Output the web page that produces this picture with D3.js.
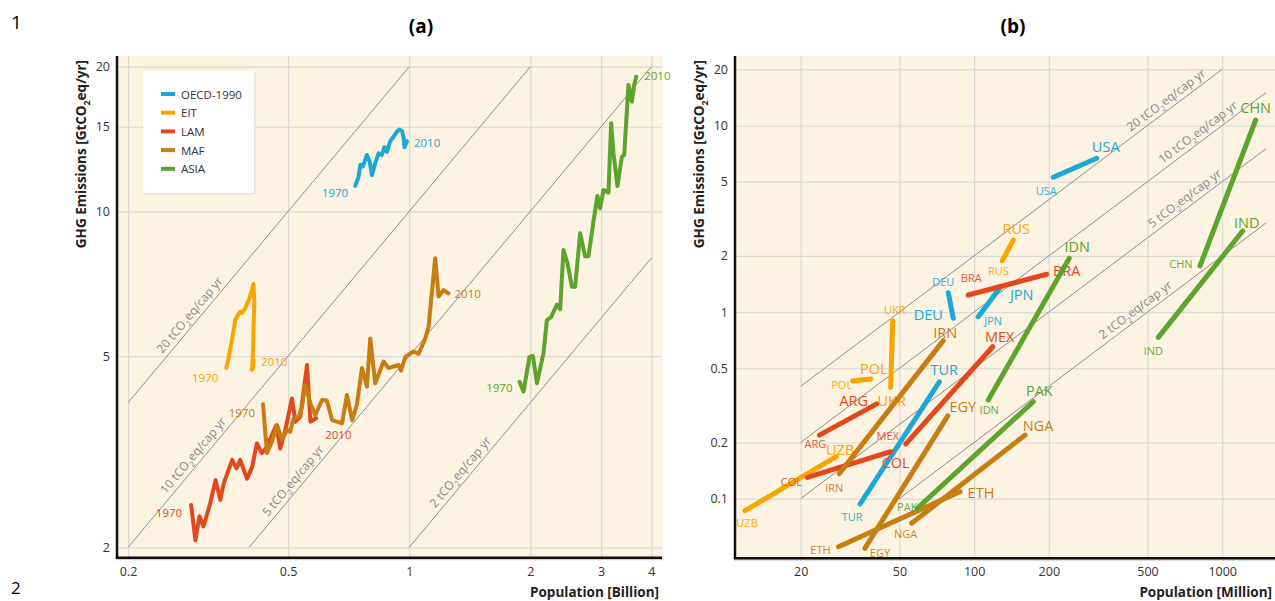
<!DOCTYPE html>
<html>
<head>
<meta charset="utf-8">
<title></title>
<style>
  body { margin: 0; background: #fff; }
  text { font-family: "Open Sans", sans-serif; }
</style>
</head>
<body>
<script src="https://d3js.org/d3.v7.min.js"></script>
<script>

// ---- panel (a): regional paths 1970-2010, [population (billion), GHG (Gt)]
var regions = ["OECD-1990", "EIT", "LAM", "MAF", "ASIA"];

var oecd = [[0.734,11.3],[0.748,11.8],[0.756,12.5],[0.767,12.4],[0.785,13.1],[0.797,12.7],[0.808,11.9],
  [0.823,12.6],[0.839,13.2],[0.855,13.1],[0.867,13.6],[0.880,13.3],[0.897,14.0],[0.914,14.3],[0.932,14.65],
  [0.946,14.8],[0.959,14.7],[0.968,14.3],[0.973,13.6],[0.987,14.0]];

var eit = [[0.351,4.72],[0.356,4.98],[0.3625,5.40],[0.3695,5.94],[0.373,6.04],[0.380,6.18],[0.384,6.15],
  [0.391,6.28],[0.399,6.54],[0.4065,6.86],[0.410,7.06],[0.412,6.44],[0.410,5.66],[0.409,5.11],[0.4065,4.68],
  [0.410,4.91],[0.409,4.72]];

var lam = [[0.287,2.45],[0.294,2.07],[0.301,2.32],[0.308,2.21],[0.320,2.47],[0.330,2.76],[0.339,2.51],
  [0.346,2.72],[0.363,3.04],[0.372,2.92],[0.380,3.04],[0.395,2.78],[0.407,2.94],[0.418,3.29],[0.430,3.14],
  [0.443,3.24],[0.467,3.59],[0.478,3.21],[0.492,3.51],[0.511,4.08],[0.521,3.65],[0.536,3.74],[0.557,4.79],
  [0.568,3.65],[0.587,3.71]];

var maf = [[0.433,3.97],[0.443,3.14],[0.456,3.32],[0.469,3.59],[0.483,3.35],[0.497,3.51],[0.506,3.48],
  [0.516,3.71],[0.531,3.74],[0.541,3.92],[0.551,4.35],[0.568,3.99],[0.584,3.77],[0.607,4.05],[0.624,4.04],
  [0.643,3.68],[0.681,3.62],[0.700,4.15],[0.721,3.68],[0.741,3.96],[0.763,4.72],[0.785,4.32],[0.800,5.44],
  [0.823,4.39],[0.863,4.87],[0.888,4.72],[0.941,4.79],[0.954,4.66],[0.978,4.98],[1.025,5.11],[1.055,5.05],
  [1.096,5.44],[1.117,5.75],[1.160,7.99],[1.183,6.65],[1.217,6.86],[1.252,6.75]];

var asia = [[1.880,4.42],[1.923,4.22],[1.991,4.98],[2.030,5.00],[2.077,4.39],[2.157,5.07],[2.199,5.94],
  [2.250,6.02],[2.328,6.39],[2.373,6.26],[2.418,8.31],[2.474,7.80],[2.537,6.97],[2.585,6.97],[2.660,9.00],
  [2.737,8.07],[2.790,8.07],[2.871,9.52],[2.937,10.77],[2.983,10.15],[3.040,11.08],[3.128,10.94],
  [3.177,15.25],[3.219,13.21],[3.293,11.29],[3.378,12.99],[3.423,13.10],[3.508,18.32],[3.577,16.91],
  [3.624,18.32],[3.666,19.06]];

var years = ["1970", "2010"];

// per-capita reference lines: [tCO2eq/cap, from pop, to pop]
var perCapA = [[20, 0.2, 1], [10, 0.2, 2], [5, 0.4, 4], [2, 1, 4]];
var xTicksA = [0.2, 0.5, 1, 2, 3, 4];
var yTicksA = [2, 5, 10, 15, 20];

// ---- panel (b): countries, population (million) and GHG (Gt), 1970 -> 2010
var countries = ["USA","JPN","DEU","TUR","RUS","POL","UKR","UZB","BRA","MEX","ARG","COL",
                 "IRN","EGY","ETH","NGA","IDN","CHN","IND","PAK"];
var countryRegion = ["OECD-1990","OECD-1990","OECD-1990","OECD-1990","EIT","EIT","EIT","EIT",
                     "LAM","LAM","LAM","LAM","MAF","MAF","MAF","MAF","ASIA","ASIA","ASIA","ASIA"];
var pop1970  = [208.5, 103.9, 78.7, 34.7, 129.9, 32.4, 47.0, 11.93, 94.7, 53.0, 23.8, 21.3,
                28.6, 36.3, 28.4, 56.0, 114.0, 813.6, 552.6, 59.0];
var emis1970 = [5.28, 0.944, 1.27, 0.0936, 1.885, 0.427, 0.899, 0.0862, 1.234, 0.196, 0.219, 0.130,
                0.136, 0.0542, 0.0553, 0.0738, 0.338, 1.766, 0.732, 0.0888];
var pop2010  = [312, 128.0, 82.4, 72.4, 143.9, 38.3, 46.1, 27.8, 196.2, 118.8, 40.5, 46.1,
                75.1, 78.3, 87.7, 160.4, 241.8, 1364, 1209, 173.2];
var emis2010 = [6.67, 1.368, 0.926, 0.423, 2.433, 0.438, 0.395, 0.168, 1.594, 0.652, 0.322, 0.1785,
                0.703, 0.278, 0.109, 0.219, 1.942, 10.70, 2.719, 0.331];

var perCapB = [[20, 20, 1000], [10, 20, 1500], [5, 20, 1500], [2, 50, 1500]];
var xTicksB = [20, 50, 100, 200, 500, 1000];
var yTicksB = [0.1, 0.2, 0.5, 1, 2, 5, 10, 20];

// ---- styles / layout
var color = {"OECD-1990": "#1ba8d6", "EIT": "#f7a600", "LAM": "#e2481b", "MAF": "#c77d12", "ASIA": "#5ca42b"};
var bg = "#fcf3e3", gridC = "#d9d9d6", refC = "#8f8f8f";

// label offsets [dx1970, dy1970, dx2010, dy2010] in px
var lblOff = {
  USA:[-7,13,9,-12], JPN:[15,4,21,8], DEU:[-5,-11,-25,-4], TUR:[-8,12,5,-12],
  RUS:[-4,10,3,-12], POL:[-11,3,3,-10], UKR:[2,-11,1,13], UZB:[2,12,4,-7],
  BRA:[3,-18,20,-4], MEX:[-18,-9,7,-10], ARG:[-4,8,-23,-3], COL:[-16,4,5,11],
  IRN:[-5,14,2,-8], EGY:[15,4,15,-9], ETH:[-18,3,21,1], NGA:[-6,10,13,-10],
  IDN:[1,10,8,-12], CHN:[-19,-2,0,-12], IND:[-5,13,4,-9], PAK:[-10,-2,6,-11]
};
// year label offsets: [dx, dy] from first / last point
var yearOff = {
  "OECD-1990": [[-7,7],[7,1]], "EIT": [[-8,9],[8,-7]], "LAM": [[-9,8],[9,16]],
  "MAF": [[-8,8],[6,0]], "ASIA": [[-7,6],[8,-1]]
};
// where per-capita labels sit along their line (population)
var perCapLblA = {20: 0.296, 10: 0.302, 5: 0.535, 2: 1.394};
var perCapLblB = {20: 625, 10: 840, 5: 743, 2: 470};

var xA = d3.scaleLog().domain([0.1877, 4.25]).range([117, 662]);
var yA = d3.scaleLog().domain([1.903, 21.05]).range([557.7, 56]);
var xB = d3.scaleLog().domain([10.87, 1632]).range([735, 1275]);
var yB = d3.scaleLog().domain([0.0479, 23.57]).range([558.3, 56]);

var svg = d3.select("body").append("svg").attr("width", 1275).attr("height", 601);

function co2(sel, pre, post, size) {
  sel.append("tspan").text(pre);
  sel.append("tspan").attr("dy", size * 0.3).attr("font-size", size * 0.65).text("2");
  sel.append("tspan").attr("dy", -size * 0.3).text(post);
}

function frame(x, y, xt, yt, xTitle) {
  var x0 = x.range()[0], x1 = x.range()[1], y0 = y.range()[0], y1 = y.range()[1];
  var g = svg.append("g");
  g.append("rect").attr("x", x0).attr("y", y1).attr("width", x1 - x0).attr("height", y0 - y1).attr("fill", bg);

  var gx = g.append("g").attr("transform", "translate(0," + y0 + ")")
    .call(d3.axisBottom(x).tickValues(xt).tickSize(-(y0 - y1)).tickFormat(""));
  var gy = g.append("g").attr("transform", "translate(" + x0 + ",0)")
    .call(d3.axisLeft(y).tickValues(yt).tickSize(-(x1 - x0)).tickFormat(""));
  [gx, gy].forEach(function(a) {
    a.select(".domain").remove();
    a.selectAll("line").attr("stroke", gridC).attr("stroke-width", 1.2);
  });

  var lx = g.append("g").attr("transform", "translate(0," + y0 + ")")
    .call(d3.axisBottom(x).tickValues(xt).tickSize(0).tickPadding(9).tickFormat(function(d) { return String(d); }));
  var ly = g.append("g").attr("transform", "translate(" + x0 + ",0)")
    .call(d3.axisLeft(y).tickValues(yt).tickSize(0).tickPadding(7).tickFormat(function(d) { return String(d); }));
  [lx, ly].forEach(function(a) {
    a.select(".domain").remove();
    a.selectAll("text").attr("font-size", 12.5).attr("fill", "#333").attr("font-family", "Open Sans, sans-serif");
  });

  g.append("line").attr("x1", x0 - 1).attr("x2", x1).attr("y1", y0 + 1.5).attr("y2", y0 + 1.5)
    .attr("stroke", "#d0d0d0").attr("stroke-width", 2);
  g.append("line").attr("x1", x0).attr("x2", x0).attr("y1", y1).attr("y2", y0).attr("stroke", "#111").attr("stroke-width", 2.5);
  g.append("line").attr("x1", x0 - 1.2).attr("x2", x1).attr("y1", y0).attr("y2", y0).attr("stroke", "#111").attr("stroke-width", 2.5);

  var yt2 = g.append("text").attr("transform", "translate(" + (x0 - 31) + "," + (y1 + 4) + ") rotate(-90)")
    .attr("text-anchor", "end").attr("font-size", 13.5).attr("font-weight", "bold").attr("fill", "#222");
  co2(yt2, "GHG Emissions [GtCO", "eq/yr]", 13.5);

  g.append("text").attr("x", x1 - 3).attr("y", 597).attr("text-anchor", "end")
    .attr("font-size", 13.5).attr("font-weight", "bold").attr("fill", "#222").text(xTitle);
  return g;
}

function perCapLines(g, x, y, lines, scale, lblPos) {
  lines.forEach(function(l) {
    var t = l[0], e = function(p) { return t * p * scale; };
    g.append("line").attr("x1", x(l[1])).attr("y1", y(e(l[1]))).attr("x2", x(l[2])).attr("y2", y(e(l[2])))
      .attr("stroke", refC).attr("stroke-width", 1);
    var p = lblPos[t];
    var ang = Math.atan2(y(e(p * 2)) - y(e(p)), x(p * 2) - x(p)) * 180 / Math.PI;
    var tx = g.append("text").attr("transform", "translate(" + x(p) + "," + y(e(p)) + ") rotate(" + ang + ")")
      .attr("text-anchor", "middle").attr("y", -5).attr("font-size", 12).attr("fill", "#888");
    co2(tx, t + " tCO", "eq/cap yr", 12);
  });
}

// ---------------- panel (a)
var gA = frame(xA, yA, xTicksA, yTicksA, "Population [Billion]");
perCapLines(gA, xA, yA, perCapA, 1, perCapLblA);

var regionData = {"OECD-1990": oecd, "EIT": eit, "LAM": lam, "MAF": maf, "ASIA": asia};
var lineA = d3.line().x(function(d) { return xA(d[0]); }).y(function(d) { return yA(d[1]); });
regions.forEach(function(r) {
  var d = regionData[r];
  gA.append("path").datum(d).attr("d", lineA).attr("fill", "none").attr("stroke", color[r])
    .attr("stroke-width", 4).attr("stroke-linejoin", "round").attr("stroke-linecap", "round");
  var first = d[0], last = d[d.length - 1];
  gA.append("text").attr("x", xA(first[0]) + yearOff[r][0][0]).attr("y", yA(first[1]) + yearOff[r][0][1])
    .attr("text-anchor", "end").attr("dominant-baseline", "central").attr("font-size", 11.5)
    .attr("fill", color[r]).text(years[0]);
  gA.append("text").attr("x", xA(last[0]) + yearOff[r][1][0]).attr("y", yA(last[1]) + yearOff[r][1][1])
    .attr("text-anchor", "start").attr("dominant-baseline", "central").attr("font-size", 11.5)
    .attr("fill", color[r]).text(years[1]);
});

// legend
var lg = gA.append("g").attr("transform", "translate(143,71)");
lg.append("rect").attr("x", 1.5).attr("y", 1.5).attr("width", 111).attr("height", 122).attr("fill", "#e9e3d8");
lg.append("rect").attr("width", 111).attr("height", 122).attr("fill", "#fff");
regions.forEach(function(r, i) {
  lg.append("rect").attr("x", 18).attr("y", 21 + i * 18.7).attr("width", 14).attr("height", 4).attr("fill", color[r]);
  lg.append("text").attr("x", 38).attr("y", 23 + i * 18.7).attr("dominant-baseline", "central")
    .attr("font-size", 11.5).attr("fill", "#333").text(r);
});

// ---------------- panel (b)
var gB = frame(xB, yB, xTicksB, yTicksB, "Population [Million]");
perCapLines(gB, xB, yB, perCapB, 0.001, perCapLblB);

countries.forEach(function(c, i) {
  var col = color[countryRegion[i]], o = lblOff[c];
  var xs = xB(pop1970[i]), ys = yB(emis1970[i]), xe = xB(pop2010[i]), ye = yB(emis2010[i]);
  gB.append("line").attr("x1", xs).attr("y1", ys).attr("x2", xe).attr("y2", ye)
    .attr("stroke", col).attr("stroke-width", 5).attr("stroke-linecap", "round");
  gB.append("text").attr("x", xs + o[0]).attr("y", ys + o[1]).attr("text-anchor", "middle")
    .attr("dominant-baseline", "central").attr("font-size", 11).attr("fill", col).attr("opacity", 0.9).text(c);
  gB.append("text").attr("x", xe + o[2]).attr("y", ye + o[3]).attr("text-anchor", "middle")
    .attr("dominant-baseline", "central").attr("font-size", 14.5).attr("fill", col).text(c);
});

// panel titles and side numbers
svg.append("text").attr("x", 421).attr("y", 33).attr("text-anchor", "middle").attr("font-size", 19)
  .attr("font-weight", "bold").attr("fill", "#000").text("(a)");
svg.append("text").attr("x", 1013).attr("y", 33).attr("text-anchor", "middle").attr("font-size", 19)
  .attr("font-weight", "bold").attr("fill", "#000").text("(b)");
svg.append("text").attr("x", 11).attr("y", 29).attr("font-size", 19).attr("fill", "#000").text("1");
svg.append("text").attr("x", 11).attr("y", 594).attr("font-size", 17).attr("fill", "#000").text("2");

</script>
</body>
</html>
